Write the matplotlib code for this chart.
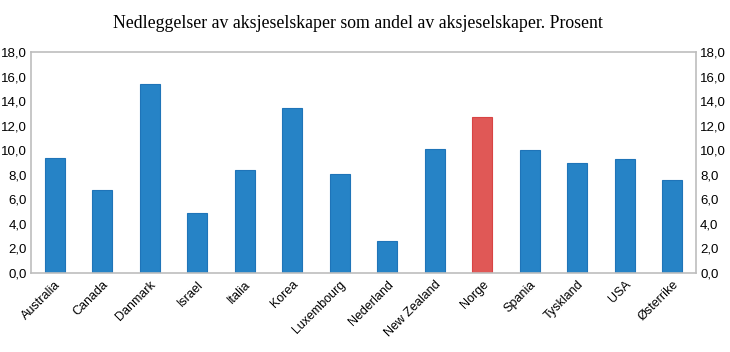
import matplotlib
matplotlib.use("Agg")
import matplotlib.pyplot as plt
from matplotlib.ticker import FuncFormatter

countries = ["Australia", "Canada", "Danmark", "Israel", "Italia", "Korea",
             "Luxembourg", "Nederland", "New Zealand", "Norge", "Spania",
             "Tyskland", "USA", "Østerrike"]
values = [9.4, 6.8, 15.4, 4.9, 8.4, 13.4, 8.1, 2.6, 10.1, 12.7, 10.0, 9.0, 9.3, 7.55]
highlight = "Norge"

blue = "#2683C6"
red = "#E05856"

fig = plt.figure(figsize=(7.3, 3.52), dpi=100)
ax = fig.add_axes([31 / 730, 1 - 273 / 352, 665 / 730, 221 / 352])

colors = [red if c == highlight else blue for c in countries]
edges = ["#D84444" if c == highlight else "#1F74B8" for c in countries]
x = list(range(len(countries)))
ax.bar(x, values, width=0.42, color=colors, edgecolor=edges, linewidth=0.8, zorder=2)

ax.set_xlim(-0.5, len(countries) - 0.5)
ax.set_ylim(0, 18)
ax.set_yticks(range(0, 19, 2))
fmt = FuncFormatter(lambda v, p: f"{v:.1f}".replace(".", ","))
ax.yaxis.set_major_formatter(fmt)

ax.set_xticks(x)
ax.set_xticklabels(countries, rotation=45, ha="right", rotation_mode="anchor",
                   fontsize=9, family="Liberation Sans")
ax.tick_params(axis="x", length=0, pad=4)
ax.tick_params(axis="y", length=0, pad=3, labelsize=9.5)
for lab in ax.get_yticklabels():
    lab.set_family("Liberation Sans")

for s in ax.spines.values():
    s.set_color("#BDBDBD")
    s.set_linewidth(1.2)

ax2 = ax.twinx()
ax2.set_ylim(0, 18)
ax2.set_yticks(range(0, 19, 2))
ax2.yaxis.set_major_formatter(fmt)
ax2.tick_params(axis="y", length=0, pad=3, labelsize=9.5)
for lab in ax2.get_yticklabels():
    lab.set_family("Liberation Sans")
for s in ax2.spines.values():
    s.set_visible(False)

fig.text(358 / 730, 1 - 24 / 352, "Nedleggelser av aksjeselskaper som andel av aksjeselskaper. Prosent",
         ha="center", va="center", fontsize=12.8, family="Liberation Serif")

fig.savefig("out.png", dpi=100)
